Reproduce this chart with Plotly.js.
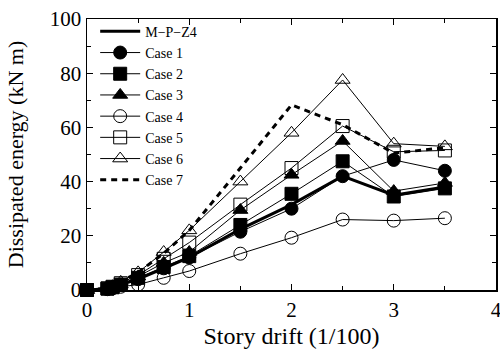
<!DOCTYPE html>
<html>
<head>
<meta charset="utf-8">
<script src="https://cdn.plot.ly/plotly-3.0.1.min.js"></script>
<style>html,body{margin:0;padding:0;background:#fff}#chart{width:500px;height:349px}</style>
</head>
<body>
<div id="chart"></div>
<script>
const drift = [0, 0.2, 0.25, 0.33, 0.5, 0.75, 1, 1.5, 2, 2.5, 3, 3.5];
const mpz4  = [0, 0.5, 1, 2, 4, 8, 12, 22.5, 31.5, 42, 35, 38];
const case1 = [0, 0.5, 1, 2, 4, 8, 12, 21.5, 30, 42, 48, 44];
const case2 = [0, 0.5, 1, 2, 4.5, 8.5, 12.5, 24, 35.5, 47.5, 34.5, 37.5];
const case3 = [0, 0.5, 1, 2, 5, 10, 14, 29.5, 42.5, 55, 36.5, 39.5];
const case4 = [0, 0.3, 0.6, 1.2, 2, 4.5, 7, 13.4, 19.3, 26, 25.6, 26.5];
const case5 = [0, 0.6, 1.2, 2.5, 5.5, 11.5, 17.5, 31.5, 45, 60.5, 51, 51.5];
const case6 = [0, 0.7, 1.4, 3, 6.5, 14, 22, 40, 58, 77.5, 54, 53];
const case7 = [0, 0.7, 1.4, 3, 6.5, 13.5, 22, 45, 68.3, 61, 50.5, 52.5];
const xTicks = [0, 1, 2, 3, 4];
const yTicks = [0, 20, 40, 60, 80, 100];

const thin = {color: '#000', width: 1};
function mk(sym, size) { return {symbol: sym, size: size, color: '#000', line: {color: '#000', width: 1}}; }

const traces = [
  {x: drift, y: case4, name: 'Case 4', mode: 'lines+markers', line: thin, marker: mk('circle-open', 13), legendrank: 5},
  {x: drift, y: case5, name: 'Case 5', mode: 'lines+markers', line: thin, marker: mk('square-open', 13), legendrank: 6},
  {x: drift, y: case6, name: 'Case 6', mode: 'lines+markers', line: thin, marker: mk('triangle-up-open', 13), legendrank: 7},
  {x: drift, y: case7, name: 'Case 7', mode: 'lines', line: {color: '#000', width: 3, dash: '6px,5px'}, legendrank: 8},
  {x: drift, y: mpz4, name: 'M\u2212P\u2212Z4', mode: 'lines', line: {color: '#000', width: 3}, legendrank: 1},
  {x: drift, y: case1, name: 'Case 1', mode: 'lines+markers', line: thin, marker: mk('circle', 13), legendrank: 2},
  {x: drift, y: case2, name: 'Case 2', mode: 'lines+markers', line: thin, marker: mk('square', 13), legendrank: 3},
  {x: drift, y: case3, name: 'Case 3', mode: 'lines+markers', line: thin, marker: mk('triangle-up', 13), legendrank: 4}
];
traces.forEach(t => t.cliponaxis = false);

const font = {family: '"Liberation Serif", "Times New Roman", serif', color: '#000'};
const axisCommon = {
  showgrid: false, zeroline: false, showline: true, linecolor: '#000', linewidth: 1.5,
  mirror: 'allticks', ticks: 'inside', ticklen: 6, tickwidth: 1, tickcolor: '#000',
  tickfont: Object.assign({size: 21}, font), ticklabeloverflow: 'allow'
};
const layout = {
  width: 500, height: 349,
  margin: {l: 87, r: 4, t: 19, b: 59},
  paper_bgcolor: '#fff', plot_bgcolor: '#fff',
  font: font,
  showlegend: true,
  legend: {x: 0.02, y: 1.012, xanchor: 'left', yanchor: 'top', bgcolor: 'rgba(0,0,0,0)',
           font: Object.assign({size: 14}, font), tracegroupgap: 0, itemwidth: 40},
  xaxis: Object.assign({}, axisCommon, {
    range: [0, 4], tickvals: xTicks, ticktext: xTicks.map(String),
    minor: {dtick: 0.5, tick0: 0, ticks: 'inside', ticklen: 4, tickcolor: '#000'},
    title: {text: 'Story drift (1/100)', font: Object.assign({size: 24}, font), standoff: 7}
  }),
  yaxis: Object.assign({}, axisCommon, {
    range: [0, 100], tickvals: yTicks, ticktext: yTicks.map(String),
    minor: {dtick: 10, tick0: 0, ticks: 'inside', ticklen: 4, tickcolor: '#000'},
    title: {text: 'Dissipated energy (kN m)', font: Object.assign({size: 22}, font), standoff: 20}
  })
};
Plotly.newPlot('chart', traces, layout, {staticPlot: true});
</script>
</body>
</html>
